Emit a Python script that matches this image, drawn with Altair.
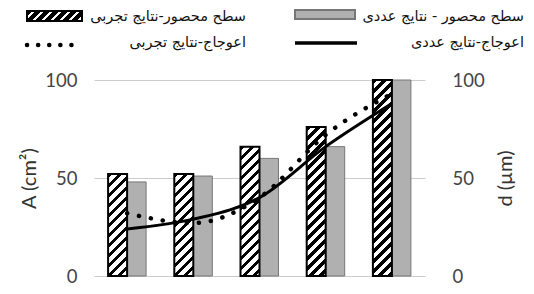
import altair as alt
import pandas as pd

categories = ["1", "2", "3", "4", "5"]
area_exp = [52, 52, 66, 76, 100]
area_num = [48, 51, 60, 66, 100]
dist_exp = [32, 27, 40, 72, 93]
dist_num = [24, 29, 40, 66, 88]
y_ticks = [0, 50, 100]

lbl_area_exp = "سطح محصور-نتایج تجربی"
lbl_area_num = "سطح محصور - نتایج عددی"
lbl_dist_exp = "اعوجاج-نتایج تجربی"
lbl_dist_num = "اعوجاج-نتایج عددی"

PW, PH = 331, 196
BAR_W = PW / 5 * (1 - 0.426) / 2


def hatch(W, H, period=10.0, dark=4.5, color="black"):
    k = (W + H) / (W * W + H * H)
    total = W + H
    stops = []
    u = 0.0
    while u < total:
        a = u / total
        b = min((u + dark) / total, 1)
        c = min((u + period) / total, 1)
        stops += [
            {"offset": a, "color": color},
            {"offset": b, "color": color},
            {"offset": b, "color": "white"},
            {"offset": c, "color": "white"},
        ]
        u += period
    return {"gradient": "linear", "x1": 0, "y1": 0, "x2": W * k, "y2": H * k, "stops": stops}


bars = pd.DataFrame({
    "cat": categories * 2,
    "series": ["exp"] * 5 + ["num"] * 5,
    "value": area_exp + area_num,
})
lines = pd.DataFrame({
    "cat": categories * 2,
    "series": ["exp"] * 5 + ["num"] * 5,
    "d": dist_exp + dist_num,
})

x_enc = alt.X("cat:N", scale=alt.Scale(domain=categories, paddingInner=0.426, paddingOuter=0.213), axis=None)
xo_enc = alt.XOffset("series:N", scale=alt.Scale(domain=["exp", "num"]))
y_enc = alt.Y(
    "value:Q",
    scale=alt.Scale(domain=[0, 100]),
    axis=alt.Axis(values=y_ticks, title="A (cm²)", grid=True, gridColor="#cccccc", domain=False,
                  ticks=False, labelPadding=17, labelFontSize=18.5, labelColor="#444", labelFont="Lato",
                  titleFont="Lato", titleFontSize=20, titleFontWeight="normal", titleColor="#333",
                  titlePadding=5),
)

gray_bars = alt.Chart(bars).transform_filter(alt.datum.series == "num").mark_bar(
    fill="#b0b0b0", stroke="#777777", strokeWidth=1
).encode(x=x_enc, xOffset=xo_enc, y=y_enc)

hatched = []
for c, v in zip(categories, area_exp):
    H = v / 100 * PH
    hatched.append(
        alt.Chart(bars).transform_filter((alt.datum.series == "exp") & (alt.datum.cat == c)).mark_bar(
            fill=hatch(BAR_W, H), stroke="black", strokeWidth=2
        ).encode(x=x_enc, xOffset=xo_enc, y=y_enc)
    )

one = pd.DataFrame({"k": [0]})
leg_font = dict(font="DejaVu Sans", fontSize=14.5, color="#111", align="right", baseline="middle")
legend = [
    alt.Chart(one).mark_rect(fill=hatch(56, 10, period=9, dark=6), stroke="black", strokeWidth=2).encode(
        x=alt.value(-67), x2=alt.value(-12), y=alt.value(-69), y2=alt.value(-59)),
    alt.Chart(one).mark_rect(fill="#b0b0b0", stroke="#777", strokeWidth=2).encode(
        x=alt.value(201), x2=alt.value(261), y=alt.value(-70), y2=alt.value(-61)),
    alt.Chart(one).mark_rule(color="black", strokeWidth=4.5, strokeDash=[0.1, 11], strokeCap="round").encode(
        x=alt.value(-67), x2=alt.value(-12), y=alt.value(-35)),
    alt.Chart(one).mark_rule(color="black", strokeWidth=3.5).encode(
        x=alt.value(201), x2=alt.value(263), y=alt.value(-37)),
    alt.Chart(pd.DataFrame({"t": [lbl_area_exp]})).mark_text(**leg_font).encode(
        x=alt.value(152), y=alt.value(-63), text="t:N"),
    alt.Chart(pd.DataFrame({"t": [lbl_area_num]})).mark_text(**leg_font).encode(
        x=alt.value(430), y=alt.value(-63), text="t:N"),
    alt.Chart(pd.DataFrame({"t": [lbl_dist_exp]})).mark_text(**leg_font).encode(
        x=alt.value(152), y=alt.value(-37), text="t:N"),
    alt.Chart(pd.DataFrame({"t": [lbl_dist_num]})).mark_text(**leg_font).encode(
        x=alt.value(430), y=alt.value(-37), text="t:N"),
]

left = alt.layer(gray_bars, *hatched, *legend)

y2_enc = alt.Y(
    "d:Q",
    scale=alt.Scale(domain=[0, 100]),
    axis=alt.Axis(orient="right", values=y_ticks, title="d (µm)", grid=False, domain=False, ticks=False,
                  labelPadding=27, labelFontSize=18.5, labelColor="#444", labelFont="Lato",
                  titleFont="Lato", titleFontSize=20, titleFontWeight="normal", titleColor="#333",
                  titleAngle=270, titleBaseline="top", titlePadding=11),
)
x_line = alt.X("cat:N", scale=alt.Scale(domain=categories, paddingInner=0.426, paddingOuter=0.213), axis=None)

line_num = alt.Chart(lines).transform_filter(alt.datum.series == "num").mark_line(
    color="black", strokeWidth=3, interpolate="monotone"
).encode(x=x_line, y=y2_enc)
line_exp = alt.Chart(lines).transform_filter(alt.datum.series == "exp").mark_line(
    color="black", strokeWidth=4.5, strokeDash=[0.1, 12], strokeCap="round", interpolate="monotone"
).encode(x=x_line, y=y2_enc)

right = alt.layer(line_num, line_exp)

chart = alt.layer(left, right).resolve_scale(y="independent").properties(
    width=PW, height=PH,
    autosize=alt.AutoSizeParams(type="none"),
    padding={"left": 86, "top": 72, "right": 101, "bottom": 10},
).configure_view(stroke=None)

chart.save("out.html", embed_options={"renderer": "svg", "actions": False})
